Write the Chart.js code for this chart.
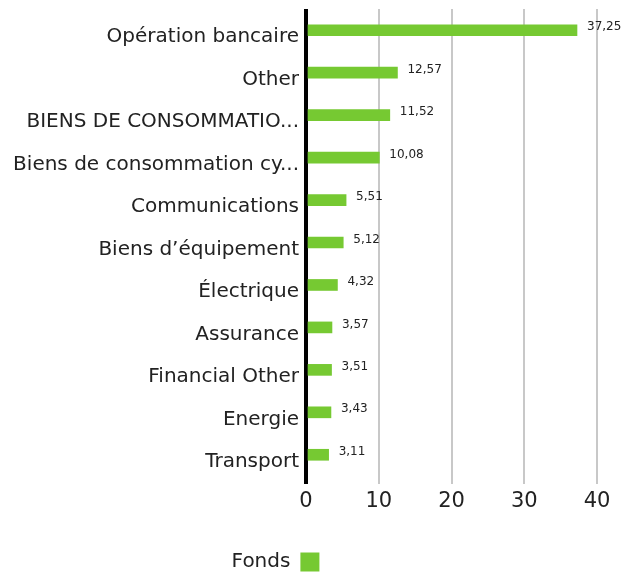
<!DOCTYPE html>
<html>
<head>
<meta charset="utf-8">
<script src="https://cdn.jsdelivr.net/npm/chart.js@4"></script>
<style>
  html, body { margin: 0; padding: 0; background: #fff; }
  #wrap { width: 625px; height: 572px; }
</style>
</head>
<body>
<div id="wrap"><canvas id="chart"></canvas></div>
<script>
const categories = [
  "Opération bancaire",
  "Other",
  "BIENS DE CONSOMMATIO...",
  "Biens de consommation cy...",
  "Communications",
  "Biens d\u2019équipement",
  "Électrique",
  "Assurance",
  "Financial Other",
  "Energie",
  "Transport"
];
const fondsValues = [37.25, 12.57, 11.52, 10.08, 5.51, 5.12, 4.32, 3.57, 3.51, 3.43, 3.11];
const xTicks = [0, 10, 20, 30, 40];

const FONT = "'DejaVu Sans', sans-serif";

// value labels next to each bar, with french decimal comma
const valueLabels = {
  id: "valueLabels",
  afterDatasetsDraw(chart) {
    const ctx = chart.ctx;
    const meta = chart.getDatasetMeta(0);
    ctx.save();
    ctx.font = "12px " + FONT;
    ctx.fillStyle = "#222";
    ctx.textAlign = "left";
    ctx.textBaseline = "middle";
    meta.data.forEach((bar, i) => {
      const txt = fondsValues[i].toFixed(2).replace(".", ",");
      ctx.fillText(txt, bar.x + 10, bar.y - 3);
    });
    ctx.restore();
  }
};

// legend sits a bit left of the canvas centre in the original
const legendShift = {
  id: "legendShift",
  afterLayout(chart) {
    if (chart.legend) {
      chart.legend.left -= 23;
      chart.legend.right -= 23;
    }
  }
};

new Chart(document.getElementById("chart"), {
  type: "bar",
  data: {
    labels: categories,
    datasets: [{
      label: "Fonds",
      data: fondsValues,
      backgroundColor: "#76c932",
      barThickness: 11
    }]
  },
  options: {
    indexAxis: "y",
    responsive: true,
    maintainAspectRatio: false,
    animation: false,
    layout: { padding: { top: 9, right: 28, left: 0, bottom: -10 } },
    plugins: {
      legend: {
        position: "bottom",
        rtl: true,
        labels: {
          font: { family: FONT, size: 20 },
          color: "#222",
          boxWidth: 19,
          boxHeight: 19,
          padding: 0
        }
      },
      tooltip: { enabled: false }
    },
    scales: {
      x: {
        min: 0,
        max: 40,
        afterBuildTicks(scale) {
          scale.ticks = xTicks.map(v => ({ value: v }));
        },
        afterFit(scale) { scale.height = 76; },
        border: { display: false },
        grid: {
          color: c => (c.tick && c.tick.value === 0 ? "#000" : "#c8c8c8"),
          lineWidth: c => (c.tick && c.tick.value === 0 ? 4 : 2),
          tickLength: 8
        },
        ticks: {
          font: { family: FONT, size: 21 },
          color: "#222",
          padding: 5
        }
      },
      y: {
        afterFit(scale) {
          scale.width = 306;
          scale.paddingTop = 0;
          scale.paddingBottom = 0;
        },
        border: { display: false },
        grid: { display: false, drawTicks: false },
        ticks: {
          font: { family: FONT, size: 20 },
          color: "#222",
          padding: 7,
          labelOffset: 7
        }
      }
    }
  },
  plugins: [valueLabels, legendShift]
});
</script>
</body>
</html>
